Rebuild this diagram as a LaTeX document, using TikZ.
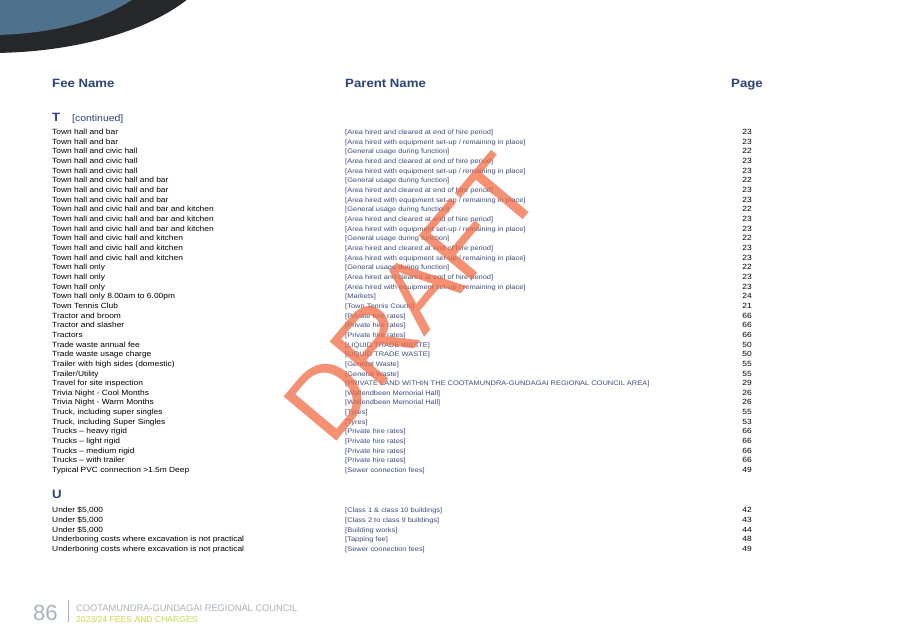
\documentclass[tikz,border=0pt]{standalone}
\usepackage{fontspec}
\setmainfont{Liberation Sans}
\begin{document}
\begin{tikzpicture}[x=1pt,y=-1pt,
  fee/.style={anchor=base west,font=\fontsize{7.5}{8}\selectfont,inner sep=0,xscale=1.12},
  par/.style={anchor=base west,font=\fontsize{6.6}{7}\selectfont,text=parc,inner sep=0,xscale=1.13},
  pg/.style={anchor=base east,font=\fontsize{7.5}{8}\selectfont,inner sep=0,xscale=1.12},
  hd/.style={anchor=base west,font=\bfseries\fontsize{12}{14}\selectfont,text=hdc,inner sep=0,xscale=1.1}]
\definecolor{hdc}{HTML}{2B437A}
\definecolor{parc}{HTML}{3D4C7E}
\definecolor{darkc}{HTML}{25272A}
\definecolor{bluec}{HTML}{4F728C}
\definecolor{draftc}{HTML}{F26B43}
\definecolor{footg}{HTML}{A8B4BE}
\definecolor{footy}{HTML}{C8D84A}
\useasboundingbox (0,0) rectangle (907,626);
\fill[white] (0,0) rectangle (907,626);
\begin{scope}
\clip (0,0) rectangle (907,626);
\fill[darkc] (-10,-60) ellipse [x radius=232, y radius=113];
\fill[bluec] (-10,-50) ellipse [x radius=175, y radius=85];
\end{scope}
\node[hd] (h1) at (52,87) {Fee Name};
\node[hd] (h2) at (345,87) {Parent Name};
\node[hd] (h3) at (731,87) {Page};
\node[hd] (sT) at (52,121) {T};
\node[anchor=base west,inner sep=0,font=\fontsize{9.5}{11}\selectfont,text=hdc,xscale=1.1] (cont) at (72,121) {[continued]};
\foreach \f/\p/\n [count=\i from 0] in {
Town hall and bar/{[Area hired and cleared at end of hire period]}/23,
Town hall and bar/{[Area hired with equipment set-up {/} remaining in place]}/23,
Town hall and civic hall/{[General usage during function]}/22,
Town hall and civic hall/{[Area hired and cleared at end of hire period]}/23,
Town hall and civic hall/{[Area hired with equipment set-up {/} remaining in place]}/23,
Town hall and civic hall and bar/{[General usage during function]}/22,
Town hall and civic hall and bar/{[Area hired and cleared at end of hire period]}/23,
Town hall and civic hall and bar/{[Area hired with equipment set-up {/} remaining in place]}/23,
Town hall and civic hall and bar and kitchen/{[General usage during function]}/22,
Town hall and civic hall and bar and kitchen/{[Area hired and cleared at end of hire period]}/23,
Town hall and civic hall and bar and kitchen/{[Area hired with equipment set-up {/} remaining in place]}/23,
Town hall and civic hall and kitchen/{[General usage during function]}/22,
Town hall and civic hall and kitchen/{[Area hired and cleared at end of hire period]}/23,
Town hall and civic hall and kitchen/{[Area hired with equipment set-up {/} remaining in place]}/23,
Town hall only/{[General usage during function]}/22,
Town hall only/{[Area hired and cleared at end of hire period]}/23,
Town hall only/{[Area hired with equipment set-up {/} remaining in place]}/23,
Town hall only 8.00am to 6.00pm/{[Markets]}/24,
Town Tennis Club/{[Town Tennis Courts]}/21,
Tractor and broom/{[Private hire rates]}/66,
Tractor and slasher/{[Private hire rates]}/66,
Tractors/{[Private hire rates]}/66,
Trade waste annual fee/{[LIQUID TRADE WASTE]}/50,
Trade waste usage charge/{[LIQUID TRADE WASTE]}/50,
Trailer with high sides (domestic)/{[General Waste]}/55,
{Trailer{/}Utility}/{[General Waste]}/55,
Travel for site inspection/{[PRIVATE LAND WITHIN THE COOTAMUNDRA-GUNDAGAI REGIONAL COUNCIL AREA]}/29,
Trivia Night - Cool Months/{[Wallendbeen Memorial Hall]}/26,
Trivia Night - Warm Months/{[Wallendbeen Memorial Hall]}/26,
{Truck, including super singles}/{[Tyres]}/55,
{Truck, including Super Singles}/{[Tyres]}/53,
Trucks – heavy rigid/{[Private hire rates]}/66,
Trucks – light rigid/{[Private hire rates]}/66,
Trucks – medium rigid/{[Private hire rates]}/66,
Trucks – with trailer/{[Private hire rates]}/66,
Typical PVC connection >1.5m Deep/{[Sewer connection fees]}/49}
{
  \node[fee] (tf\i) at (52,{134.5+9.66*\i}) {\f};
  \node[par] (tp\i) at (345,{134.5+9.66*\i}) {\p};
  \node[pg] (tn\i) at (752,{134.5+9.66*\i}) {\n};
}
\node[hd] (sU) at (52,498) {U};
\foreach \f/\p/\n [count=\i from 0] in {
Under \$5{,}000/{[Class 1 \& class 10 buildings]}/42,
Under \$5{,}000/{[Class 2 to class 9 buildings]}/43,
Under \$5{,}000/{[Building works]}/44,
Underboring costs where excavation is not practical/{[Tapping fee]}/48,
Underboring costs where excavation is not practical/{[Sewer connection fees]}/49}
{
  \node[fee] (uf\i) at (52,{512.5+9.75*\i}) {\f};
  \node[par] (up\i) at (345,{512.5+9.75*\i}) {\p};
  \node[pg] (un\i) at (752,{512.5+9.75*\i}) {\n};
}
\node[rotate=50,text=draftc,opacity=0.75,font=\fontsize{100}{100}\selectfont,inner sep=0] (draft) at (412,298) {DRAFT};
\node[anchor=base west,inner sep=0,font=\fontsize{22}{22}\selectfont,text=footg] (pn) at (33,620) {86};
\draw[footg,line width=0.8] (68,600) -- (68,622);
\node[anchor=base west,inner sep=0,font=\fontsize{9.5}{10}\selectfont,text=footg,xscale=0.98] (ft1) at (76,611) {COOTAMUNDRA-GUNDAGAI REGIONAL COUNCIL};
\node[anchor=base west,inner sep=0,font=\fontsize{8.6}{9}\selectfont,text=footy] (ft2) at (76,622) {2023/24 FEES AND CHARGES};
\end{tikzpicture}
\end{document}
